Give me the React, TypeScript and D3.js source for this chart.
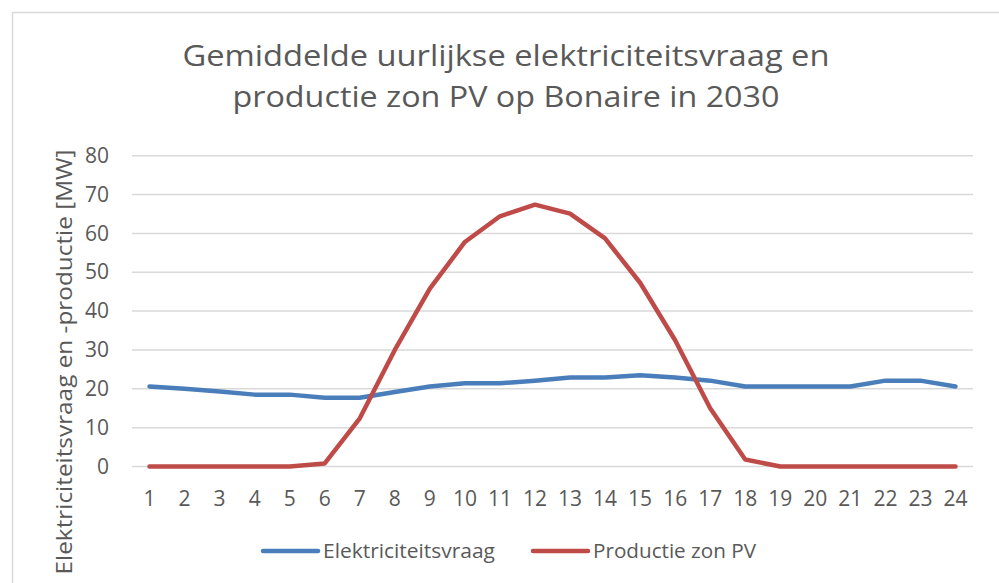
import React, { useEffect, useRef } from "react";
import * as d3 from "d3";

const hours = d3.range(1, 25).map(String);
const demand = [
  20.6, 20.0, 19.3, 18.5, 18.5, 17.7, 17.7, 19.2, 20.6, 21.4, 21.4, 22.1,
  22.9, 22.9, 23.5, 22.9, 22.1, 20.6, 20.6, 20.6, 20.6, 22.1, 22.1, 20.6,
];
const solar = [
  0, 0, 0, 0, 0, 0.8, 12.4, 30.0, 45.8, 57.8, 64.4, 67.4, 65.1, 58.7, 47.3,
  32.5, 15.0, 1.8, 0, 0, 0, 0, 0, 0,
];
const yTicks = [0, 10, 20, 30, 40, 50, 60, 70, 80];
const titleLines = [
  "Gemiddelde uurlijkse elektriciteitsvraag en",
  "productie zon PV op Bonaire in 2030",
];
const seriesNames = ["Elektriciteitsvraag", "Productie zon PV"];
const seriesColors = ["#4a7ebb", "#be4b48"];

const W = 999;
const H = 583;
const font = "'Open Sans', sans-serif";
const grey = "#595959";

function App() {
  const svgRef = useRef<SVGSVGElement>(null);

  useEffect(() => {
    const svg = d3.select(svgRef.current);
    svg.selectAll("*").remove();

    const left = 132, right = 973, top = 155.7, bottom = 466.5;

    const x = d3.scaleBand().domain(hours).range([left, right]);
    const y = d3.scaleLinear().domain([0, 80]).range([bottom, top]);

    // chart frame (runs off the right and bottom)
    svg.append("rect")
      .attr("x", 12.5).attr("y", 12.5)
      .attr("width", 1100).attr("height", 700)
      .attr("fill", "#fff").attr("stroke", "#d9d9d9").attr("stroke-width", 1.5);

    // title
    svg.append("g").selectAll("text")
      .data(titleLines)
      .enter().append("text")
      .attr("x", 506)
      .attr("y", (d, i) => 66 + i * 41)
      .attr("text-anchor", "middle")
      .attr("font-family", font)
      .attr("font-size", 29)
      .attr("fill", grey)
      .attr("textLength", (d, i) => (i === 0 ? 647 : 547))
      .attr("lengthAdjust", "spacingAndGlyphs")
      .text((d) => d);

    // gridlines
    svg.append("g").selectAll("line")
      .data(yTicks)
      .enter().append("line")
      .attr("x1", left).attr("x2", right)
      .attr("y1", (d) => y(d)).attr("y2", (d) => y(d))
      .attr("stroke", "#d9d9d9").attr("stroke-width", 1.5);

    // y-axis
    const yAxis = svg.append("g")
      .attr("transform", `translate(${left - 10},0)`)
      .call(d3.axisLeft(y).tickValues(yTicks).tickSize(0).tickPadding(13));
    yAxis.select(".domain").remove();
    yAxis.selectAll("text")
      .attr("font-family", font).attr("font-size", 21).attr("fill", grey);

    // x-axis
    const xAxis = svg.append("g")
      .attr("transform", `translate(0,${bottom})`)
      .call(d3.axisBottom(x).tickSize(0).tickPadding(25));
    xAxis.select(".domain").remove();
    xAxis.selectAll("text")
      .attr("font-family", font).attr("font-size", 21).attr("fill", grey);

    // y-axis title
    svg.append("text")
      .attr("transform", `translate(72,362) rotate(-90)`)
      .attr("text-anchor", "middle")
      .attr("font-family", font)
      .attr("font-size", 21)
      .attr("fill", grey)
      .attr("textLength", 425)
      .attr("lengthAdjust", "spacingAndGlyphs")
      .text("Elektriciteitsvraag en -productie [MW]");

    // lines
    const line = d3.line<number>()
      .x((d, i) => (x(hours[i]) as number) + x.bandwidth() / 2)
      .y((d) => y(d));

    [demand, solar].forEach((vals, k) => {
      svg.append("path")
        .datum(vals)
        .attr("d", line)
        .attr("fill", "none")
        .attr("stroke", seriesColors[k])
        .attr("stroke-width", 4.5)
        .attr("stroke-linejoin", "round")
        .attr("stroke-linecap", "round");
    });

    // legend
    const legendX = [263, 533];
    const legendLen = [172, 163];
    const lg = svg.append("g").selectAll("g")
      .data(seriesNames)
      .enter().append("g")
      .attr("transform", (d, i) => `translate(${legendX[i]},551)`);
    lg.append("line")
      .attr("x1", 0).attr("x2", 55)
      .attr("stroke", (d, i) => seriesColors[i])
      .attr("stroke-width", 4.5)
      .attr("stroke-linecap", "round");
    lg.append("text")
      .attr("x", 60).attr("y", 7)
      .attr("font-family", font).attr("font-size", 20)
      .attr("fill", grey)
      .attr("textLength", (d, i) => legendLen[i])
      .attr("lengthAdjust", "spacingAndGlyphs")
      .text((d) => d);
  }, []);

  return (
    <svg
      ref={svgRef}
      width={W}
      height={H}
      style={{ position: "absolute", left: 0, top: 0, background: "#fff" }}
    ></svg>
  );
}

export default App;
